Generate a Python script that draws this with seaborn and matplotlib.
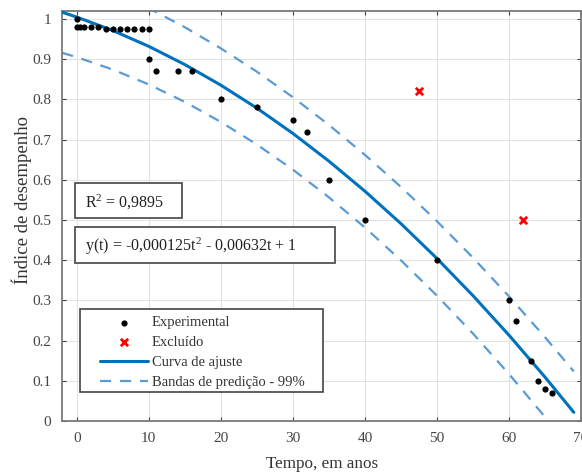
import numpy as np
import pandas as pd
import matplotlib
matplotlib.use("Agg")
import matplotlib.pyplot as plt
from matplotlib.patches import Rectangle
import seaborn as sns

# ---- data ----
exp_t = [0, 0, 0.5, 1, 2, 3, 4, 5, 6, 7, 8, 9, 10, 10, 11, 14, 16, 20, 25, 30, 32, 35, 40, 50, 60, 61, 63, 64, 65, 66]
exp_y = [1.0, 0.98, 0.98, 0.98, 0.98, 0.98, 0.975, 0.975, 0.975, 0.975, 0.975, 0.975, 0.975, 0.90, 0.87, 0.87, 0.87, 0.80,
         0.78, 0.75, 0.72, 0.60, 0.50, 0.40, 0.30, 0.25, 0.15, 0.10, 0.08, 0.07]
exc_t = [47.5, 62]
exc_y = [0.82, 0.50]

curve_t = [-2, 0, 5, 10, 15, 20, 25, 30, 35, 40, 45, 50, 55, 60, 65, 69]
curve_y = [1.0168, 1.005, 0.9715, 0.9321, 0.8868, 0.8356, 0.7785, 0.7155, 0.6466, 0.5718,
           0.4911, 0.4045, 0.3120, 0.2136, 0.1093, 0.0216]
upper_y = [1.1178, 1.1048, 1.0686, 1.0269, 0.9797, 0.9271, 0.8691, 0.8056, 0.7366, 0.6622,
           0.5824, 0.4971, 0.4064, 0.3102, 0.2085, 0.1233]
lower_y = [0.9158, 0.9052, 0.8744, 0.8373, 0.7939, 0.7441, 0.6879, 0.6254, 0.5566, 0.4814,
           0.3998, 0.3119, 0.2176, 0.1170, 0.0101, -0.0801]

xticks = [0, 10, 20, 30, 40, 50, 60, 70]
yticks = [0, 0.1, 0.2, 0.3, 0.4, 0.5, 0.6, 0.7, 0.8, 0.9, 1]
ytick_labels = ["0", "0.1", "0.2", "0.3", "0.4", "0.5", "0.6", "0.7", "0.8", "0.9", "1"]

r2_text = "R$^2$ = 0,9895"
eq_text = "y(t) = -0,000125t$^2$ - 0,00632t + 1"
xlabel = "Tempo, em anos"
ylabel = "Índice de desempenho"
labels = ["Experimental", "Excluído", "Curva de ajuste", "Bandas de predição - 99%"]

# ---- styling ----
sns.set_style("white")
plt.rcParams["font.family"] = ["Liberation Serif", "DejaVu Serif"]
plt.rcParams["axes.unicode_minus"] = False
plt.rcParams["mathtext.fontset"] = "custom"
plt.rcParams["mathtext.rm"] = "Liberation Serif"
plt.rcParams["mathtext.it"] = "Liberation Serif:italic"
plt.rcParams["mathtext.bf"] = "Liberation Serif:bold"
plt.rcParams["mathtext.default"] = "rm"

fig = plt.figure(figsize=(5.82, 4.72), dpi=100)
ax = fig.add_axes([62.3 / 582, 51 / 472, 518.7 / 582, 410 / 472])

exp_df = pd.DataFrame({"t": exp_t, "y": exp_y})
exc_df = pd.DataFrame({"t": exc_t, "y": exc_y})
fit_df = pd.DataFrame({"t": curve_t, "y": curve_y, "up": upper_y, "lo": lower_y})

band_color = "#5b9bd5"
sns.lineplot(data=fit_df, x="t", y="up", ax=ax, color=band_color, lw=1.6,
             linestyle=(0, (5, 4)), label=labels[3], zorder=2)
sns.lineplot(data=fit_df, x="t", y="lo", ax=ax, color=band_color, lw=1.6,
             linestyle=(0, (5, 4)), zorder=2)
sns.lineplot(data=fit_df, x="t", y="y", ax=ax, color="#0072BD", lw=2.2,
             label=labels[2], zorder=3)
sns.scatterplot(data=exp_df, x="t", y="y", ax=ax, color="black", s=20,
                edgecolor="black", linewidth=0, label=labels[0], zorder=4)
sns.scatterplot(data=exc_df, x="t", y="y", ax=ax, color="red", marker="x", s=28,
                linewidth=2.0, label=labels[1], zorder=4)

ax.set_xlim(-2, 70)
ax.set_ylim(0, 1.02)
ax.set_xticks(xticks)
ax.set_yticks(yticks)
ax.set_yticklabels(ytick_labels)
ax.grid(True, color="#e3e3e3", lw=0.8)
ax.set_axisbelow(True)
for s in ax.spines.values():
    s.set_color("#7a7a7a")
    s.set_linewidth(1.3)
ax.tick_params(direction="in", length=3, width=0.8, color="#404040",
               labelsize=11, labelcolor="#444444", top=True, right=True,
               bottom=True, left=True, pad=8)
ax.set_xlabel(xlabel, fontsize=12.3, color="#333333", labelpad=8)
ax.set_ylabel(ylabel, fontsize=13.5, color="#333333")
ax.yaxis.set_label_coords(-0.058, 0.54)

# text boxes
box_ec = "#444444"
ax.add_patch(Rectangle((0.0245, 0.494), 0.2055, 0.087, transform=ax.transAxes,
                       fc="white", ec=box_ec, lw=1.2, zorder=5))
ax.text(0.044, 0.534, r2_text, transform=ax.transAxes, fontsize=11.5,
        va="center", ha="left", color="#222222", zorder=6)
ax.add_patch(Rectangle((0.0245, 0.385), 0.5015, 0.087, transform=ax.transAxes,
                       fc="white", ec=box_ec, lw=1.2, zorder=5))
ax.text(0.044, 0.425, eq_text, transform=ax.transAxes, fontsize=11.5,
        va="center", ha="left", color="#222222", zorder=6)

# legend: frame drawn as a separate rectangle, entries placed inside it
ax.add_patch(Rectangle((0.034, 0.0715), 0.469, 0.2005, transform=ax.transAxes,
                       fc="white", ec=box_ec, lw=1.2, zorder=5))
h, l = ax.get_legend_handles_labels()
order = [l.index(x) for x in labels]
leg = ax.legend([h[i] for i in order], [l[i] for i in order],
                loc="center left", bbox_to_anchor=(0.0727, 0.167),
                borderaxespad=0, borderpad=0, fontsize=10.5, handlelength=3.3,
                frameon=False, labelspacing=0.45, handletextpad=0.27)
leg.set_zorder(6)
for t in leg.get_texts():
    t.set_color("#333333")

fig.savefig("out.png", dpi=100)
